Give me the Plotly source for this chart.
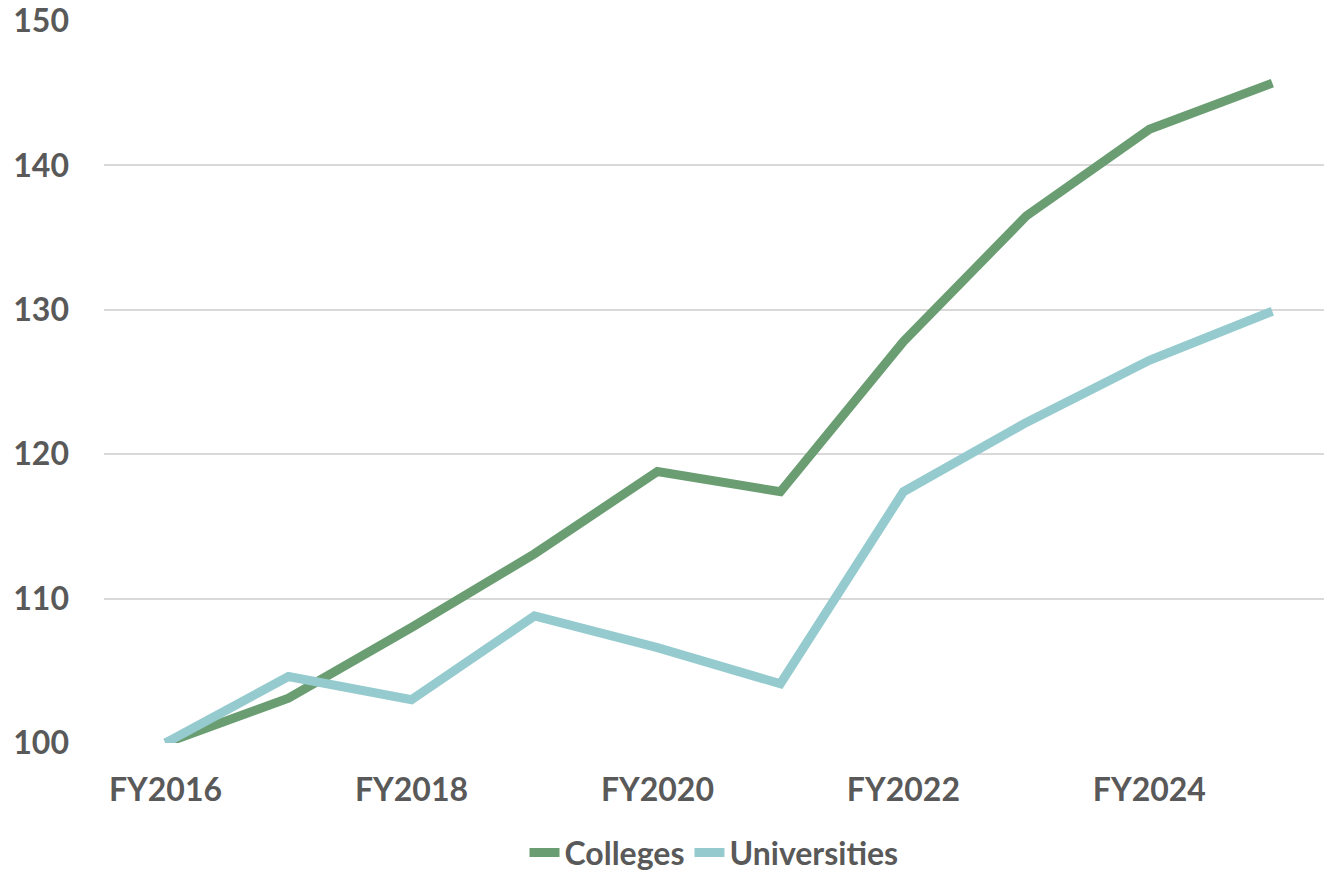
import plotly.graph_objects as go

years = ["FY2016", "FY2017", "FY2018", "FY2019", "FY2020",
         "FY2021", "FY2022", "FY2023", "FY2024", "FY2025"]
colleges = [100.0, 103.1, 108.0, 113.1, 118.8, 117.4, 127.8, 136.5, 142.5, 145.7]
universities = [100.0, 104.6, 103.0, 108.8, 106.6, 104.1, 117.4, 122.2, 126.5, 129.9]
x_tick_labels = ["FY2016", "FY2018", "FY2020", "FY2022", "FY2024"]
y_ticks = [100, 110, 120, 130, 140, 150]

text_color = "#595959"
font_family = "Lato"

fig = go.Figure()
fig.add_trace(go.Scatter(
    x=years, y=colleges, name="Colleges", mode="lines",
    line=dict(color="#6A9E72", width=9),
))
fig.add_trace(go.Scatter(
    x=years, y=universities, name="Universities", mode="lines",
    line=dict(color="#95CBCF", width=9),
))

fig.update_layout(
    width=1324, height=877,
    margin=dict(l=104, r=0, t=21, b=134, autoexpand=False),
    paper_bgcolor="white", plot_bgcolor="white",
    font=dict(family=font_family, color=text_color, size=32, weight="bold"),
    legend=dict(
        orientation="h", x=0.5, xanchor="center", y=-0.152, yanchor="middle",
        font=dict(family=font_family, color=text_color, size=32, weight="bold"),
        itemwidth=30, tracegroupgap=0,
    ),
    xaxis=dict(
        type="category", range=[-0.5, 9.42], automargin=False,
        tickmode="array", tickvals=x_tick_labels, ticktext=x_tick_labels,
        showgrid=False, zeroline=False, showline=False, ticks="",
        ticklabelstandoff=25,
    ),
    yaxis=dict(
        range=[100, 150], tickvals=y_ticks, automargin=False,
        showgrid=True, gridcolor="#D9D9D9", gridwidth=2,
        zeroline=False, showline=False, ticks="",
        ticklabelstandoff=34,
    ),
)

fig.write_html("out.html")
